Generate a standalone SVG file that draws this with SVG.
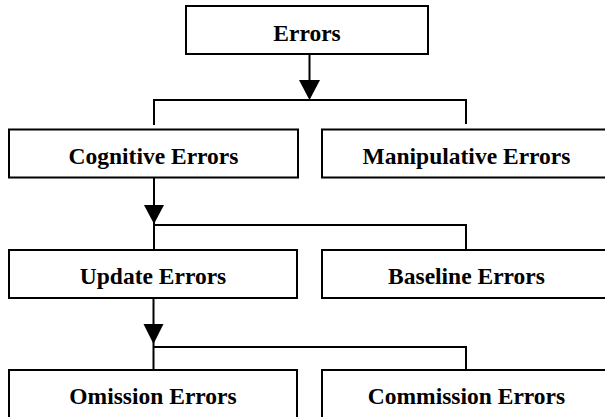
<svg xmlns="http://www.w3.org/2000/svg" width="605" height="417" viewBox="0 0 605 417">
<style>
.box{fill:#fff;stroke:#000;stroke-width:2}
.lbl{font-family:"Liberation Serif","Times New Roman",serif;font-weight:bold;font-size:23.5px;text-anchor:middle;fill:#000}
.ln{fill:none;stroke:#000;stroke-width:2}
.ah{fill:#000;stroke:none}
</style>
<rect width="605" height="417" fill="#fff"/>
<g id="connectors">
<path class="ln" d="M309.5,54 V84"/>
<polygon class="ah" points="299,80 320,80 309.5,100"/>
<path class="ln" d="M154,125 V100 H466 V124"/>
<path class="ln" d="M154,178 V250"/>
<polygon class="ah" points="144,205 164,205 154,224"/>
<path class="ln" d="M154,225 H466 V250"/>
<path class="ln" d="M153.5,298 V370"/>
<polygon class="ah" points="143.5,324 163.5,324 153.5,344"/>
<path class="ln" d="M153.5,347 H466 V370"/>
</g>
<g id="errors"><rect class="box" x="186" y="6" width="242" height="48"/><text class="lbl" x="307" y="40.5">Errors</text></g>
<g id="cognitive"><rect class="box" x="9" y="129.5" width="289" height="48"/><text class="lbl" x="153.5" y="163.5">Cognitive Errors</text></g>
<g id="manipulative"><rect class="box" x="322" y="129.5" width="289" height="48"/><text class="lbl" x="466.5" y="163.5">Manipulative Errors</text></g>
<g id="update"><rect class="box" x="9" y="250" width="288" height="48"/><text class="lbl" x="153" y="284">Update Errors</text></g>
<g id="baseline"><rect class="box" x="322" y="250" width="289" height="48"/><text class="lbl" x="466.5" y="284">Baseline Errors</text></g>
<g id="omission"><rect class="box" x="9" y="370" width="288" height="48"/><text class="lbl" x="153" y="404">Omission Errors</text></g>
<g id="commission"><rect class="box" x="322" y="370" width="289" height="48"/><text class="lbl" x="466.5" y="404">Commission Errors</text></g>
</svg>
